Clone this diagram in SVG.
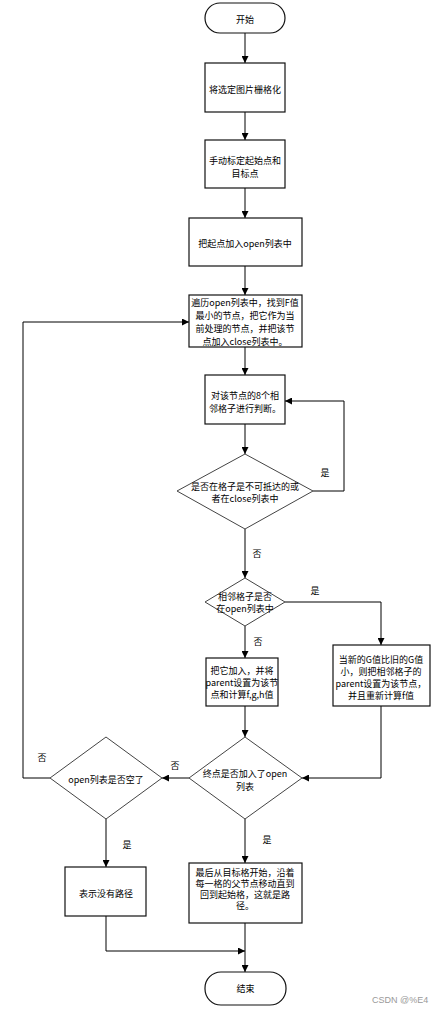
<svg xmlns="http://www.w3.org/2000/svg" width="437" height="1013" viewBox="0 0 437 1013">
<defs>
<marker id="arr" viewBox="0 0 10 10" refX="10" refY="5" markerWidth="7" markerHeight="7" orient="auto" markerUnits="userSpaceOnUse">
<path d="M0,0 L10,5 L0,10 z" fill="#000"/>
</marker>
</defs>
<style>
.box{fill:#fff;stroke:#111;stroke-width:1.2}
.dia{fill:#fff;stroke:#444;stroke-width:1}
.t{font-family:"Noto Sans CJK SC","Liberation Sans",sans-serif;font-size:9px;fill:#000;text-anchor:middle;dominant-baseline:central}
.lbl{font-family:"Noto Sans CJK SC","Liberation Sans",sans-serif;font-size:9px;fill:#000;text-anchor:middle;dominant-baseline:central}
.c{fill:none;stroke:#000;stroke-width:1}
.wm{font-family:"Liberation Sans",sans-serif;font-size:9px;fill:#999;dominant-baseline:central}
</style>
<rect width="437" height="1013" fill="#fff"/>
<g id="connectors">
<path class="c" d="M245,33 V63" marker-end="url(#arr)"/>
<path class="c" d="M245,112 V140" marker-end="url(#arr)"/>
<path class="c" d="M245,188 V218" marker-end="url(#arr)"/>
<path class="c" d="M245,266 V295" marker-end="url(#arr)"/>
<path class="c" d="M245,347 V375" marker-end="url(#arr)"/>
<path class="c" d="M245,424 V454" marker-end="url(#arr)"/>
<path class="c" d="M313,491 H344 V401 H285" marker-end="url(#arr)"/>
<path class="c" d="M245,529 V578" marker-end="url(#arr)"/>
<path class="c" d="M285,602 H381 V645" marker-end="url(#arr)"/>
<path class="c" d="M245,626 V658" marker-end="url(#arr)"/>
<path class="c" d="M245,706 V737" marker-end="url(#arr)"/>
<path class="c" d="M381,706 V778 H302" marker-end="url(#arr)"/>
<path class="c" d="M189,778 H162" marker-end="url(#arr)"/>
<path class="c" d="M50,778 H23 V322 H189" marker-end="url(#arr)"/>
<path class="c" d="M106,819 V867" marker-end="url(#arr)"/>
<path class="c" d="M245,819 V863" marker-end="url(#arr)"/>
<path class="c" d="M106,916 V951 H245" marker-end="url(#arr)"/>
<path class="c" d="M245,923 V972" marker-end="url(#arr)"/>
<text class="lbl" x="325" y="472">是</text>
<text class="lbl" x="257" y="553">否</text>
<text class="lbl" x="315" y="590">是</text>
<text class="lbl" x="258" y="641">否</text>
<text class="lbl" x="175" y="765">否</text>
<text class="lbl" x="42" y="757">否</text>
<text class="lbl" x="127" y="844">是</text>
<text class="lbl" x="267" y="839">是</text>
</g>
<g id="start">
<rect class="box" x="205" y="3" width="80" height="30" rx="15" ry="15"/>
<text class="t" x="245" y="19">开始</text>
</g>
<g id="grid">
<rect class="box" x="205" y="63" width="80" height="49"/>
<text class="t" x="245" y="89">将选定图片栅格化</text>
</g>
<g id="mark">
<rect class="box" x="205" y="140" width="80" height="48"/>
<text class="t" x="245" y="160">手动标定起始点和</text>
<text class="t" x="245" y="173">目标点</text>
</g>
<g id="addStart">
<rect class="box" x="189" y="218" width="113" height="48"/>
<text class="t" x="245" y="243">把起点加入open列表中</text>
</g>
<g id="traverse">
<rect class="box" x="189" y="295" width="113" height="52"/>
<text class="t" x="245" y="302">遍历open列表中，找到F值</text>
<text class="t" x="245" y="315">最小的节点，把它作为当</text>
<text class="t" x="245" y="328">前处理的节点，并把该节</text>
<text class="t" x="245" y="341">点加入close列表中。</text>
</g>
<g id="judge8">
<rect class="box" x="205" y="375" width="80" height="49"/>
<text class="t" x="245" y="395">对该节点的8个相</text>
<text class="t" x="245" y="408">邻格子进行判断。</text>
</g>
<g id="unreachable">
<polygon class="dia" points="245,454 313,491 245,529 177,491"/>
<text class="t" x="245" y="486">是否在格子是不可抵达的或</text>
<text class="t" x="245" y="498">者在close列表中</text>
</g>
<g id="inOpen">
<polygon class="dia" points="245,578 285,602 245,626 205,602"/>
<text class="t" x="245" y="596">相邻格子是否</text>
<text class="t" x="245" y="608">在open列表中</text>
</g>
<g id="addIt">
<rect class="box" x="206" y="658" width="72" height="48"/>
<text class="t" x="242" y="670">把它加入，并将</text>
<text class="t" x="242" y="682">parent设置为该节</text>
<text class="t" x="242" y="694">点和计算f,g,h值</text>
</g>
<g id="updateG">
<rect class="box" x="333" y="645" width="97" height="61"/>
<text class="t" x="381" y="659">当新的G值比旧的G值</text>
<text class="t" x="381" y="671">小，则把相邻格子的</text>
<text class="t" x="381" y="683">parent设置为该节点，</text>
<text class="t" x="381" y="695">并且重新计算f值</text>
</g>
<g id="endInOpen">
<polygon class="dia" points="245,737 302,778 245,819 189,778"/>
<text class="t" x="245" y="773">终点是否加入了open</text>
<text class="t" x="245" y="786">列表</text>
</g>
<g id="openEmpty">
<polygon class="dia" points="106,737 162,778 106,819 50,778"/>
<text class="t" x="106" y="779">open列表是否空了</text>
</g>
<g id="noPath">
<rect class="box" x="65" y="867" width="81" height="49"/>
<text class="t" x="106" y="893">表示没有路径</text>
</g>
<g id="path">
<rect class="box" x="189" y="863" width="113" height="60"/>
<text class="t" x="245" y="872">最后从目标格开始，沿着</text>
<text class="t" x="245" y="883">每一格的父节点移动直到</text>
<text class="t" x="245" y="894">回到起始格，这就是路</text>
<text class="t" x="245" y="905">径。</text>
</g>
<g id="end">
<rect class="box" x="205" y="972" width="81" height="33" rx="16" ry="16"/>
<text class="t" x="245.5" y="988">结束</text>
</g>
<text class="wm" x="372" y="1000">CSDN @%E4</text>
</svg>
